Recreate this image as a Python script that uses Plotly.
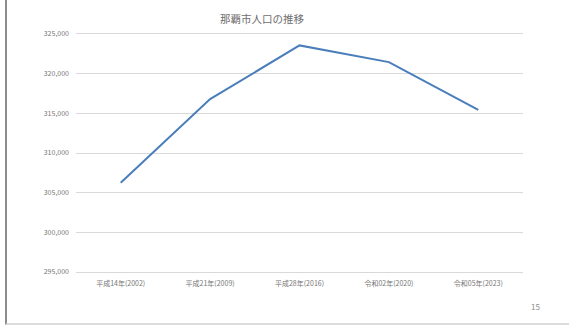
import plotly.graph_objects as go

categories = ["平成14年(2002)", "平成21年(2009)", "平成28年(2016)", "令和02年(2020)", "令和05年(2023)"]
population = [306250, 316790, 323560, 321460, 315430]
title_text = "那覇市人口の推移"
page_number = "15"

W, H = 569, 325
L, R, T, B = 76, 523, 34.3, 271.7

def px(x):
    return (x - L) / (R - L)

def py(y):
    return (B - y) / (B - T)

font_family = "Noto Sans CJK JP, Noto Sans, sans-serif"
label_color = "#767676"
grid_color = "#d9d9d9"

fig = go.Figure(go.Scatter(
    x=categories, y=population, mode="lines",
    line=dict(color="#4a7ebb", width=2),
    hoverinfo="skip",
))

fig.update_layout(
    width=W, height=H,
    margin=dict(l=L, r=W - R, t=T, b=H - B, autoexpand=False),
    paper_bgcolor="white", plot_bgcolor="white",
    showlegend=False,
    font=dict(family=font_family, color=label_color, size=7),
    xaxis=dict(
        type="category", range=[-0.5, 4.5], showgrid=False, zeroline=False,
        showline=True, mirror=True, linecolor=grid_color, linewidth=1,
        ticks="", tickfont=dict(size=7, color=label_color),
        ticklabelstandoff=5,
    ),
    yaxis=dict(
        range=[295000, 325000], dtick=5000,
        tickformat=",",
        showgrid=True, gridcolor=grid_color, gridwidth=1, zeroline=False,
        showline=False, ticks="", tickfont=dict(size=7, color=label_color),
        ticklabelstandoff=6,
    ),
    annotations=[
        dict(text=title_text, x=px(262), y=py(19), xref="paper", yref="paper",
             showarrow=False, xanchor="center", yanchor="middle",
             font=dict(size=10.5, color="#6e6e6e", family=font_family)),
        dict(text=page_number, x=px(535), y=py(306), xref="paper", yref="paper",
             showarrow=False, xanchor="center", yanchor="middle",
             font=dict(size=8, color="#8c8c8c", family=font_family)),
    ],
    shapes=[
        dict(type="line", xref="paper", yref="paper", x0=px(6), x1=px(6),
             y0=py(0), y1=py(324), line=dict(color="#8c8c8c", width=2)),
        dict(type="line", xref="paper", yref="paper", x0=px(6), x1=px(569),
             y0=py(323.5), y1=py(323.5), line=dict(color="#d0d0d0", width=1.5)),
    ],
)

fig.write_html("out.html")
